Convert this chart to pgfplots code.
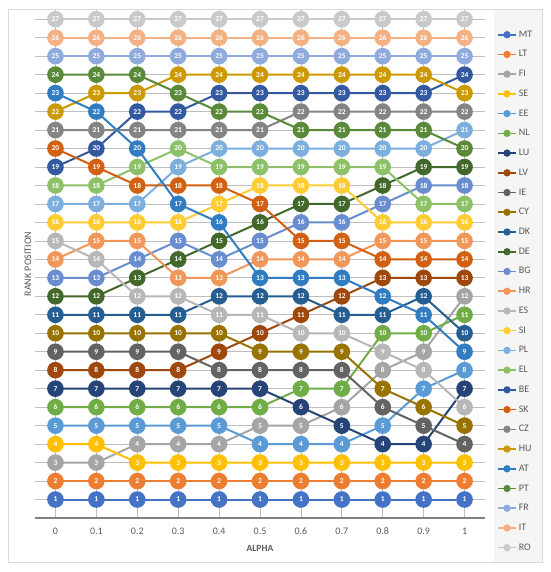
\documentclass[border=0pt]{standalone}
\usepackage{fontspec}
\setmainfont{Carlito}
\usepackage{pgfplots}
\usepackage{pgfplotstable}
\pgfplotsset{compat=1.18}
\definecolor{cMT}{HTML}{4472C4}
\definecolor{cLT}{HTML}{ED7D31}
\definecolor{cFI}{HTML}{A5A5A5}
\definecolor{cSE}{HTML}{FFC000}
\definecolor{cEE}{HTML}{5B9BD5}
\definecolor{cNL}{HTML}{70AD47}
\definecolor{cLU}{HTML}{264478}
\definecolor{cLV}{HTML}{9E480E}
\definecolor{cIE}{HTML}{636363}
\definecolor{cCY}{HTML}{997300}
\definecolor{cDK}{HTML}{255E91}
\definecolor{cDE}{HTML}{43682B}
\definecolor{cBG}{HTML}{698ED0}
\definecolor{cHR}{HTML}{F1975A}
\definecolor{cES}{HTML}{B7B7B7}
\definecolor{cSI}{HTML}{FFCD33}
\definecolor{cPL}{HTML}{7CAFDD}
\definecolor{cEL}{HTML}{8CC168}
\definecolor{cBE}{HTML}{335AA1}
\definecolor{cSK}{HTML}{D26012}
\definecolor{cCZ}{HTML}{848484}
\definecolor{cHU}{HTML}{CC9A00}
\definecolor{cAT}{HTML}{327DC2}
\definecolor{cPT}{HTML}{5A8A39}
\definecolor{cFR}{HTML}{8FAADC}
\definecolor{cIT}{HTML}{F4B183}
\definecolor{cRO}{HTML}{C9C9C9}
\definecolor{txt}{HTML}{595959}
\definecolor{grid}{HTML}{D9D9D9}
\pgfplotstableread{
alpha MT LT FI SE EE NL LU LV IE CY DK DE BG HR ES SI PL EL BE SK CZ HU AT PT FR IT RO
0.0 1 2 3 4 5 6 7 8 9 10 11 12 13 14 15 16 17 18 19 20 21 22 23 24 25 26 27
0.1 1 2 3 4 5 6 7 8 9 10 11 12 13 15 14 16 17 18 20 19 21 23 22 24 25 26 27
0.2 1 2 4 3 5 6 7 8 9 10 11 13 14 15 12 16 17 19 22 18 21 23 20 24 25 26 27
0.3 1 2 4 3 5 6 7 8 9 10 11 14 15 13 12 16 19 20 22 18 21 24 17 23 25 26 27
0.4 1 2 4 3 5 6 7 9 8 10 12 15 14 13 11 17 20 19 23 18 21 24 16 22 25 26 27
0.5 1 2 5 3 4 6 7 10 8 9 12 16 15 14 11 18 20 19 23 17 21 24 13 22 25 26 27
0.6 1 2 5 3 4 7 6 11 8 9 12 17 16 14 10 18 20 19 23 15 22 24 13 21 25 26 27
0.7 1 2 6 3 4 7 5 12 8 9 11 17 16 14 10 18 20 19 23 15 22 24 13 21 25 26 27
0.8 1 2 8 3 5 10 4 13 6 7 11 18 17 15 9 16 20 19 23 14 22 24 12 21 25 26 27
0.9 1 2 9 3 7 10 4 13 5 6 12 19 18 15 8 16 20 17 23 14 22 24 11 21 25 26 27
1.0 1 2 12 3 8 11 7 13 4 5 10 19 18 15 6 16 21 17 24 14 22 23 9 20 25 26 27
}\ranks
\begin{document}
\begin{tikzpicture}
\useasboundingbox (0,0) rectangle (550pt,572pt);
\fill[white] (0,0) rectangle (550pt,572pt);
\fill[black!4] (494pt,10pt) rectangle (542pt,563pt);
\draw[grid,line width=0.8pt] (8pt,10pt) rectangle (542pt,563pt);
\begin{axis}[
  at={(35pt,54pt)}, anchor=south west,
  scale only axis, width=450pt, height=508pt,
  xmin=-0.05, xmax=1.05, ymin=0, ymax=27.5,
  clip=false,
  axis x line*=bottom, axis y line*=left,
  x axis line style={-, draw=black!50, line width=1.2pt},
  y axis line style={draw=none},
  xtick={0,0.1,0.2,0.3,0.4,0.5,0.6,0.7,0.8,0.9,1},
  xticklabels={0,0.1,0.2,0.3,0.4,0.5,0.6,0.7,0.8,0.9,1},
  ytick={1,2,...,27}, yticklabels={},
  major tick length=0pt,
  ymajorgrids, grid style={grid, line width=0.8pt},
  xticklabel style={font=\fontsize{10}{11}\selectfont, text=txt, anchor=north, text height=7pt, text depth=0pt, yshift=-6pt},
  xlabel={ALPHA}, ylabel={RANK POSITION},
  xlabel style={font=\fontsize{9.5}{10}\selectfont\bfseries, text=txt, at={(axis description cs:0.5,0)}, anchor=center, yshift=-30pt},
  ylabel style={font=\fontsize{10}{11}\selectfont, text=txt, at={(axis description cs:-0.0156,0.5)}, anchor=center},
  /pgf/number format/assume math mode=true,
  every axis plot/.append style={line width=2pt, mark=*, mark size=7.3pt},
  nodes near coords={\pgfmathprintnumber{\pgfplotspointmeta}},
  every node near coord/.append style={anchor=center, text=white, font=\fontsize{7.5}{8}\selectfont\bfseries, inner sep=0pt},
  legend cell align=left,
  legend image code/.code={\draw[line width=1.6pt] (0pt,0pt)--(18pt,0pt); \fill (9pt,0pt) circle (2.6pt);},
  legend style={at={(axis description cs:1.0267,0.9606)}, anchor=north west, draw=none, fill=none,
    font=\fontsize{10}{11}\selectfont, text=txt, inner sep=0pt,
    nodes={inner sep=0pt, text height=7pt, text depth=2pt},
    row sep=10.73pt, /tikz/every odd column/.append style={column sep=2pt}},
]
\pgfplotsinvokeforeach{MT,LT,FI,SE,EE,NL,LU,LV,IE,CY,DK,DE,BG,HR,ES,SI,PL,EL,BE,SK,CZ,HU,AT,PT,FR,IT,RO}{
  \addplot[color=c#1, mark options={fill=c#1, draw=c#1}] table[x=alpha, y=#1] {\ranks};
  \addlegendentry{#1}
}
\end{axis}
\end{tikzpicture}
\end{document}
